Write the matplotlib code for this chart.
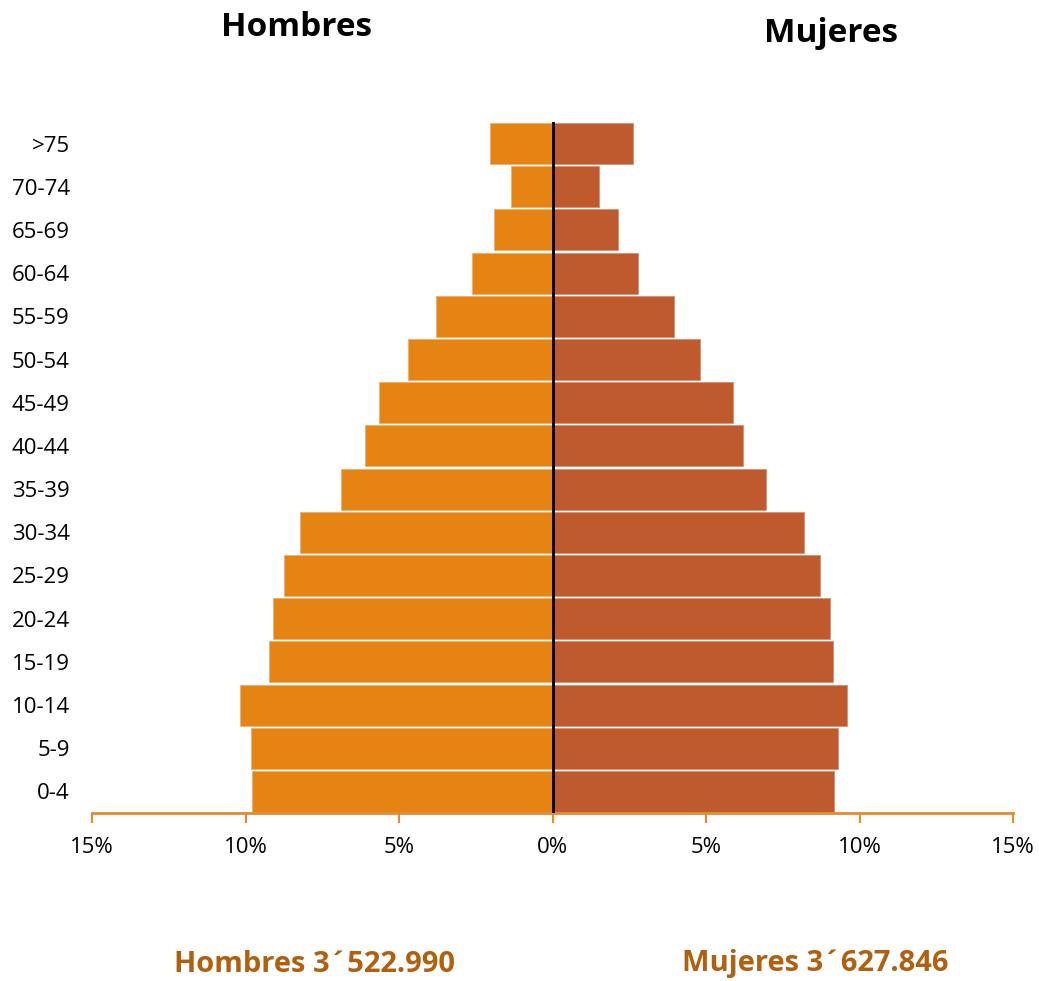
import matplotlib.pyplot as plt
import numpy as np

plt.rcParams['font.family'] = ['Open Sans', 'DejaVu Sans']

grupos = ['0-4', '5-9', '10-14', '15-19', '20-24', '25-29', '30-34', '35-39',
          '40-44', '45-49', '50-54', '55-59', '60-64', '65-69', '70-74', '>75']
hombres = [9.78, 9.81, 10.17, 9.23, 9.10, 8.74, 8.22, 6.88,
           6.10, 5.64, 4.70, 3.81, 2.61, 1.89, 1.34, 2.02]
mujeres = [9.16, 9.29, 9.59, 9.13, 9.03, 8.71, 8.18, 6.95,
           6.20, 5.87, 4.79, 3.95, 2.80, 2.12, 1.53, 2.61]
xticks = [-15, -10, -5, 0, 5, 10, 15]

c_h = '#E68413'
c_m = '#BE5A2E'
c_axis = '#E68A2E'
c_txt = '#B0600F'

fig = plt.figure(figsize=(10.39, 9.81), dpi=100)
ax = fig.add_axes([92 / 1039, 1 - 813 / 981, (1013 - 92) / 1039, (813 - 122) / 981])

y = np.arange(len(grupos))
ax.barh(y, -np.array(hombres), height=0.95, color=c_h, edgecolor='#F0B070', linewidth=0.6)
ax.barh(y, mujeres, height=0.95, color=c_m, edgecolor='#D89070', linewidth=0.6)
ax.axvline(0, color='black', linewidth=2, zorder=5)

ax.set_xlim(-15, 15)
ax.set_ylim(-0.5, 15.5)
ax.set_xticks(xticks)
ax.set_xticklabels([f'{abs(v)}%' for v in xticks], fontsize=16)
ax.set_yticks(y)
ax.set_yticklabels(grupos, fontsize=16)

for s in ['top', 'right', 'left']:
    ax.spines[s].set_visible(False)
ax.spines['bottom'].set_color(c_axis)
ax.spines['bottom'].set_linewidth(2)
ax.tick_params(axis='x', direction='out', length=7, width=1.5, color=c_axis, pad=10)
ax.tick_params(axis='y', length=0, pad=16)

fig.text(297 / 1039, 1 - 27 / 981, 'Hombres', ha='center', va='center',
         fontsize=24, fontweight='bold')
fig.text(831 / 1039, 1 - 33 / 981, 'Mujeres', ha='center', va='center',
         fontsize=24, fontweight='bold')
fig.text(315 / 1039, 1 - 964 / 981, 'Hombres 3´522.990', ha='center', va='center',
         fontsize=21, fontweight='bold', color=c_txt)
fig.text(815 / 1039, 1 - 964 / 981, 'Mujeres 3´627.846', ha='center', va='center',
         fontsize=21, fontweight='bold', color=c_txt)

fig.savefig('out.png', dpi=100)
